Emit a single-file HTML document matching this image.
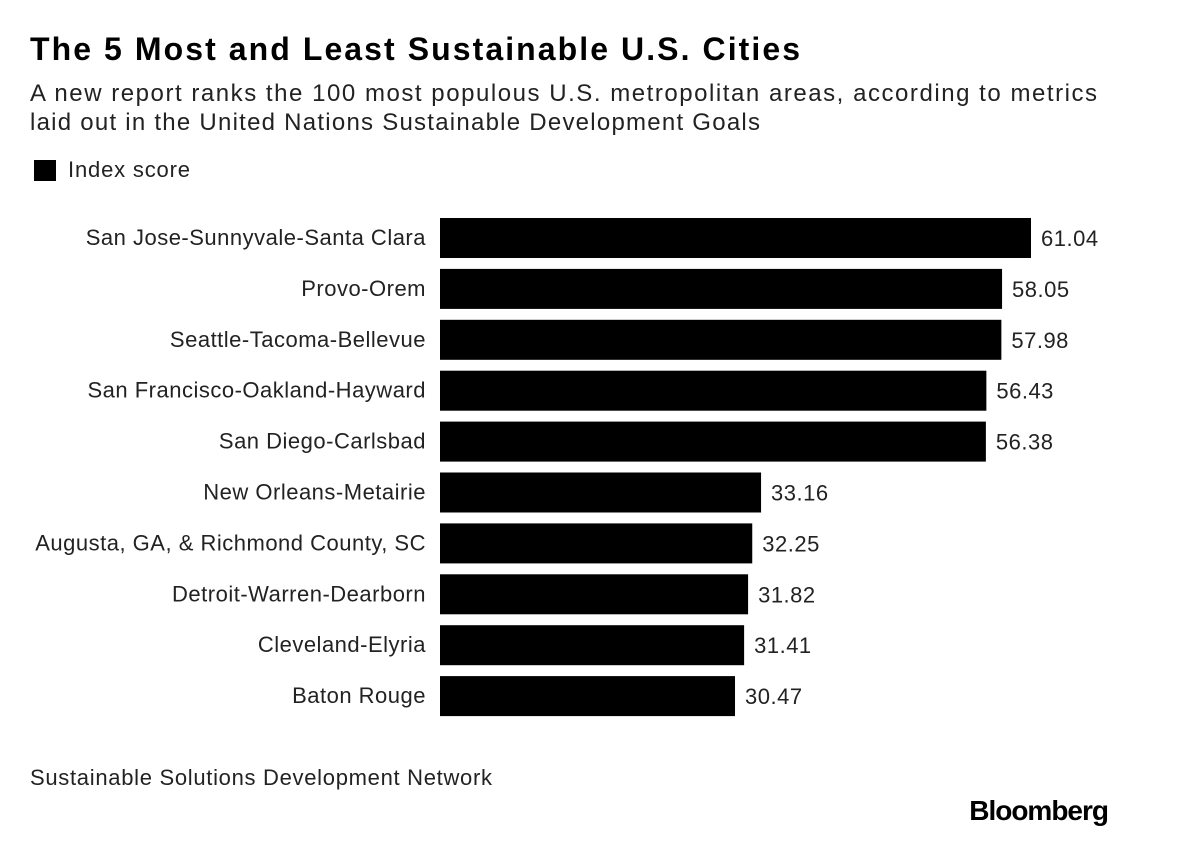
<!DOCTYPE html>
<html><head><meta charset="utf-8"><style>
body{margin:0;background:#fff;width:1200px;height:836px;overflow:hidden;font-family:"Liberation Sans",Arial,sans-serif;color:#000}
svg text{font-family:"Liberation Sans",Arial,sans-serif}
</style></head><body>
<svg width="1200" height="836">
<text x="30" y="60" font-size="32" font-weight="bold" textLength="770" lengthAdjust="spacing">The 5 Most and Least Sustainable U.S. Cities</text>
<text x="30" y="101" font-size="24" fill="#222" textLength="1067" lengthAdjust="spacing">A new report ranks the 100 most populous U.S. metropolitan areas, according to metrics</text>
<text x="30" y="130" font-size="24" fill="#222" textLength="730" lengthAdjust="spacing">laid out in the United Nations Sustainable Development Goals</text>
<rect x="34" y="160" width="22" height="21" fill="#000"/>
<text x="68" y="177" font-size="22" fill="#222" textLength="122" lengthAdjust="spacing">Index score</text>
<g id="bars"></g>
<text x="30" y="785" font-size="22" fill="#222" textLength="462" lengthAdjust="spacing">Sustainable Solutions Development Network</text>
<text x="1108" y="820" font-size="28" font-weight="bold" text-anchor="end" letter-spacing="-1">Bloomberg</text>
</svg>
<script>
const categories=["San Jose-Sunnyvale-Santa Clara","Provo-Orem","Seattle-Tacoma-Bellevue","San Francisco-Oakland-Hayward","San Diego-Carlsbad","New Orleans-Metairie","Augusta, GA, & Richmond County, SC","Detroit-Warren-Dearborn","Cleveland-Elyria","Baton Rouge"];
const values=[61.04,58.05,57.98,56.43,56.38,33.16,32.25,31.82,31.41,30.47];
const valueLabels=["61.04","58.05","57.98","56.43","56.38","33.16","32.25","31.82","31.41","30.47"];
const x0=440,pxPerUnit=591/61.04,top0=218,pitch=50.9,bh=40;
const xs=v=>x0+v*pxPerUnit, ys=i=>top0+i*pitch;
const g=document.getElementById('bars'),NS='http://www.w3.org/2000/svg';
categories.forEach((c,i)=>{
 const r=document.createElementNS(NS,'rect');
 r.setAttribute('x',x0);r.setAttribute('y',ys(i));r.setAttribute('width',xs(values[i])-x0);r.setAttribute('height',bh);r.setAttribute('fill','#000');
 
 
 g.appendChild(r);
 const t=document.createElementNS(NS,'text');
 t.setAttribute('x',426);t.setAttribute('y',ys(i)+bh/2+7);t.setAttribute('text-anchor','end');t.setAttribute('font-size','22');t.setAttribute('letter-spacing','0.5');t.setAttribute('fill','#222');t.textContent=c;
 
 
 g.appendChild(t);
 const v=document.createElementNS(NS,'text');
 v.setAttribute('x',xs(values[i])+10);v.setAttribute('y',ys(i)+bh/2+8);v.setAttribute('font-size','22');v.setAttribute('letter-spacing','0.5');v.setAttribute('fill','#222');v.textContent=valueLabels[i];
 
 
 g.appendChild(v);
});
</script>
</body></html>
